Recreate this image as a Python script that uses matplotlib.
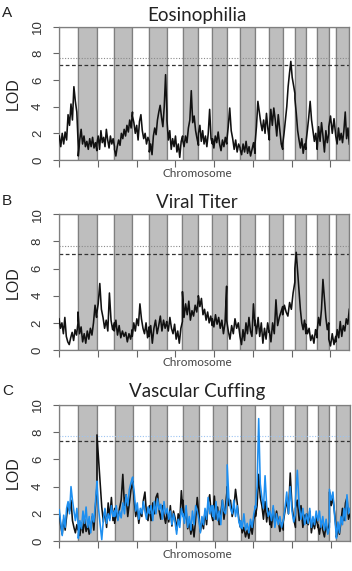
import numpy as np
import matplotlib
matplotlib.use("Agg")
import matplotlib.pyplot as plt

# chromosome layout (approx cM, read from band widths)
chrom_names = ["1", "2", "3", "4", "5", "6", "7", "8", "9", "10",
               "11", "12", "13", "14", "15", "16", "17", "18", "19", "X"]
chrom_len = [98, 96, 91, 93, 87, 91, 81, 82, 72, 74,
             69, 77, 74, 69, 63, 57, 58, 60, 36, 70]

# LOD values read per chromosome, evenly spaced inside each chromosome
eos_lod = [
    [1.8, 1.0, 2.0, 1.2, 2.1, 1.5, 3.4, 2.6, 4.2, 3.0, 5.5, 4.4, 3.6, 1.0],
    [0.3, 1.5, 2.3, 1.2, 1.8, 1.0, 1.4, 0.8, 1.6, 1.0, 1.7, 0.9, 1.3, 0.7],
    [1.2, 1.8, 0.8, 2.2, 1.3, 1.7, 1.0, 2.3, 1.5, 0.9, 1.8, 1.2, 1.6, 1.0],
    [0.8, 0.3, 1.0, 1.5, 1.1, 2.0, 1.6, 2.3, 1.8, 2.6, 2.1, 3.0, 2.4, 3.6],
    [3.3, 2.8, 2.0, 2.6, 1.5, 2.9, 3.4, 2.2, 1.6, 2.0, 1.2, 1.7, 1.4],
    [0.6, 1.2, 0.4, 1.8, 2.4, 1.9, 3.0, 3.6, 4.1, 3.2, 2.5, 4.0, 6.4, 3.5],
    [3.0, 1.5, 2.2, 0.8, 1.6, 1.0, 1.8, 0.6, 1.2, 0.2, 1.4, 1.8],
    [1.5, 1.0, 1.8, 1.3, 2.4, 3.0, 5.2, 2.8, 3.3, 2.2, 1.6, 1.1],
    [2.0, 2.6, 1.4, 2.2, 1.2, 1.8, 1.0, 2.0, 3.8, 1.6, 1.2],
    [1.6, 0.9, 1.8, 1.3, 2.1, 1.2, 0.7, 1.5, 1.0, 1.7, 1.2],
    [1.4, 2.5, 3.9, 2.2, 1.6, 0.8, 1.5, 0.6, 1.2, 0.9],
    [0.8, 0.4, 1.2, 0.6, 1.4, 0.5, 1.0, 0.3, 0.8, 1.3, 0.5],
    [1.2, 2.5, 4.4, 3.6, 2.8, 2.2, 3.0, 2.0, 3.5, 2.3, 1.5],
    [2.2, 3.8, 2.6, 3.9, 3.0, 1.8, 3.4, 2.3, 1.2, 0.8],
    [1.2, 2.0, 3.0, 4.0, 5.5, 6.5, 7.4, 6.2, 5.6, 5.0],
    [4.6, 3.5, 2.2, 1.5, 0.9, 1.6, 0.5, 1.2, 0.8],
    [1.3, 2.2, 3.2, 4.4, 3.0, 2.2, 1.4, 2.0, 0.9],
    [0.8, 2.5, 1.4, 2.8, 1.8, 0.6, 2.2, 1.3, 2.0],
    [2.5, 3.3, 2.0, 3.1, 1.8],
    [1.8, 1.2, 2.4, 1.5, 2.0, 1.3, 2.2, 3.6, 1.6, 2.4, 1.2],
]

viral_lod = [
    [2.3, 1.6, 2.0, 1.2, 2.4, 1.0, 0.6, 0.4, 0.9, 1.3, 0.7, 1.5, 1.1, 2.0],
    [2.8, 1.2, 1.7, 0.6, 1.2, 0.5, 1.4, 0.8, 1.6, 1.1, 2.0, 3.3, 2.4],
    [2.6, 3.4, 4.9, 3.0, 2.4, 1.6, 2.2, 1.4, 4.2, 2.2, 1.5, 2.0],
    [1.4, 2.2, 1.1, 1.8, 0.9, 1.4, 1.0, 1.3, 0.6, 1.2, 0.8, 1.5],
    [1.0, 2.0, 1.4, 2.3, 1.8, 3.4, 2.3, 1.6, 1.2, 2.0, 0.9, 1.7],
    [1.0, 1.8, 0.5, 1.6, 2.2, 1.2, 1.8, 2.5, 1.4, 2.2, 1.6, 2.1],
    [2.0, 1.4, 2.4, 1.6, 1.2, 1.9, 0.8, 1.4, 0.5, 1.6, 2.1],
    [4.3, 2.4, 3.4, 2.6, 3.6, 2.2, 2.9, 2.5, 3.3, 2.8, 3.8],
    [4.0, 3.2, 3.8, 2.6, 3.0, 2.2, 2.8, 2.0, 2.5, 1.8],
    [2.3, 1.7, 2.6, 1.9, 2.4, 1.6, 2.2, 1.2, 2.0, 4.7],
    [2.2, 1.4, 0.8, 1.8, 1.2, 2.3, 1.6, 2.0, 1.0],
    [1.0, 0.4, 1.5, 0.7, 2.0, 1.2, 2.4, 1.4, 1.0, 3.4, 1.8],
    [2.2, 1.2, 2.4, 1.0, 2.0, 0.5, 1.6, 0.8, 2.0, 1.3],
    [1.4, 0.6, 2.0, 1.2, 3.7, 1.8, 2.4, 2.8, 3.2],
    [2.6, 3.3, 2.8, 2.5, 3.5, 3.0, 4.2, 5.0],
    [6.0, 7.2, 5.8, 4.5, 3.0, 2.0, 1.5, 2.2, 1.2],
    [1.9, 1.2, 1.6, 0.7, 1.1, 0.5, 1.5, 0.9],
    [1.4, 2.4, 1.8, 3.0, 5.2, 3.8, 2.4, 1.5, 2.0],
    [0.8, 0.3, 1.2, 0.4, 1.0],
    [0.6, 1.5, 0.9, 2.1, 1.0, 1.8, 1.4, 2.3, 1.9, 3.0],
]

cuff_lod_black = [
    [2.0, 1.1, 0.5, 1.6, 0.8, 1.8, 2.7, 2.2, 3.0, 1.5, 1.0, 0.6, 1.2, 0.8],
    [0.9, 0.4, 1.3, 0.6, 1.6, 0.7, 1.2, 0.5, 1.0, 1.8, 0.8, 2.5, 4.0],
    [7.8, 6.0, 4.2, 2.5, 1.4, 2.3, 1.0, 2.8, 1.7, 3.2, 1.5, 2.4],
    [1.3, 2.1, 1.6, 2.4, 3.0, 4.9, 2.6, 3.4, 1.8, 2.8, 3.8, 4.3],
    [4.4, 3.0, 1.8, 2.4, 1.3, 2.2, 1.8, 3.0, 3.6, 2.0, 1.5, 2.6],
    [2.4, 1.5, 2.8, 2.0, 3.2, 3.5, 2.2, 1.6, 2.6, 1.9, 1.3, 2.2],
    [2.0, 1.4, 2.6, 1.1, 2.2, 1.7, 0.8, 2.0, 1.4, 3.7, 2.2],
    [3.0, 1.6, 2.2, 0.9, 1.4, 0.5, 1.2, 0.3, 1.6, 3.2, 2.0],
    [2.0, 0.7, 1.4, 0.9, 2.2, 1.2, 2.8, 3.4, 2.0, 1.5],
    [1.8, 3.3, 1.6, 2.5, 1.2, 2.0, 3.0, 1.6, 2.6, 3.8],
    [4.0, 2.6, 3.0, 1.8, 2.4, 3.8, 2.8, 1.6, 1.0],
    [1.4, 0.6, 1.0, 0.3, 0.8, 0.2, 1.2, 0.5, 1.6, 2.2],
    [1.8, 2.6, 4.9, 3.2, 2.6, 1.6, 2.9, 1.4, 2.4, 1.2],
    [2.0, 1.0, 2.4, 1.2, 2.2, 1.5, 0.7, 1.3, 0.8],
    [1.4, 2.2, 3.0, 2.0, 5.0, 2.6, 1.6, 1.0],
    [2.4, 3.0, 1.5, 2.6, 1.0, 1.9, 1.3],
    [2.0, 1.2, 2.2, 0.6, 1.4, 0.9, 1.8, 1.0],
    [1.2, 0.5, 1.4, 0.8, 0.3, 1.2, 0.6, 1.4],
    [3.6, 2.6, 3.2, 2.0, 0.6],
    [0.3, 0.9, 0.5, 1.4, 2.4, 1.5, 2.8, 3.2, 1.6, 2.0],
]

cuff_lod_blue = [
    [2.3, 1.3, 0.4, 1.9, 1.0, 2.4, 2.9, 2.0, 4.0, 3.0, 2.2, 1.5, 2.4, 1.0],
    [0.2, 1.5, 0.9, 2.2, 1.3, 2.5, 1.0, 1.8, 0.6, 2.0, 1.4, 2.8, 4.4],
    [4.3, 2.4, 1.2, 0.1, 1.6, 2.4, 1.3, 2.0, 1.5, 2.6, 1.8, 2.2],
    [1.8, 2.6, 1.5, 2.2, 1.7, 2.8, 2.0, 3.4, 2.6, 3.8, 4.3, 4.7],
    [4.5, 3.6, 2.2, 2.8, 1.6, 2.4, 2.0, 2.9, 2.2, 1.6, 2.5, 2.0],
    [2.2, 2.6, 1.5, 2.9, 2.0, 3.1, 2.3, 2.7, 1.6, 2.9, 2.0, 2.4],
    [2.4, 1.6, 2.2, 1.2, 2.0, 1.4, 0.5, 1.6, 1.0, 2.4, 1.8],
    [2.0, 1.3, 2.6, 1.0, 1.8, 0.8, 2.2, 1.2, 2.6, 2.2, 1.6],
    [1.6, 0.6, 1.8, 1.2, 2.4, 1.6, 3.2, 2.0, 2.6, 1.8],
    [2.6, 1.6, 2.9, 1.5, 2.2, 1.2, 3.0, 2.2, 2.0, 3.2],
    [5.6, 3.2, 2.4, 2.0, 3.0, 1.8, 2.6, 1.4, 1.0],
    [1.5, 0.9, 2.0, 0.8, 1.3, 0.6, 1.6, 1.0, 2.0, 2.6],
    [2.4, 4.0, 9.0, 4.2, 3.2, 2.4, 4.8, 2.6, 1.8, 2.2],
    [2.2, 1.5, 2.6, 1.0, 2.0, 1.2, 1.8, 1.0, 1.5],
    [1.5, 2.4, 3.6, 2.0, 4.0, 2.2, 1.4, 2.0],
    [3.0, 5.2, 2.6, 1.6, 2.4, 1.2, 2.0],
    [2.0, 1.3, 2.4, 1.0, 1.8, 1.2, 2.2, 1.5],
    [1.5, 2.2, 1.0, 1.8, 0.8, 1.6, 0.5, 1.0],
    [3.8, 3.0, 3.6, 1.8, 0.3],
    [0.2, 1.4, 0.6, 1.8, 1.2, 2.4, 1.5, 3.4, 2.0, 2.4],
]

# significance thresholds (dotted, dashed)
eos_thr = [7.65, 7.1]
viral_thr = [7.65, 7.05]
cuff_thr = [7.75, 7.35]

titles = ["Eosinophilia", "Viral Titer", "Vascular Cuffing"]
letters = ["A", "B", "C"]

W, H = 352, 571
BAND = "#bebebe"
EDGE = "#7f7f7f"
BLUE = "#1e8ff0"


def genome_xy(lod_by_chrom):
    starts = np.concatenate([[0], np.cumsum(chrom_len)[:-1]])
    xs, ys = [], []
    for s, L, vals in zip(starts, chrom_len, lod_by_chrom):
        xs.append(np.linspace(s, s + L, len(vals)))
        ys.append(vals)
    return np.concatenate(xs), np.concatenate(ys)


def draw_panel(ax, curves, thr, dot_color):
    total = sum(chrom_len)
    starts = np.concatenate([[0], np.cumsum(chrom_len)[:-1]])
    for i, (s, L) in enumerate(zip(starts, chrom_len)):
        face = BAND if i % 2 == 1 else "white"
        ax.axvspan(s, s + L, facecolor=face, edgecolor=EDGE, lw=0.9, zorder=0)

    for lod, color in curves:
        x, y = genome_xy(lod)
        ax.plot(x, y, color=color, lw=1.15, zorder=3)

    ax.axhline(thr[0], color=dot_color, ls=(0, (1, 1.5)), lw=0.8, zorder=2)
    ax.axhline(thr[1], color="#333333", ls=(0, (3, 2)), lw=0.9, zorder=2)

    ax.set_xlim(0, total)
    ax.set_ylim(0, 10)
    ax.set_yticks([0, 2, 4, 6, 8, 10])
    ax.set_yticklabels(["0", "2", "4", "6", "8", "10"], rotation=90, va="center",
                       fontsize=9.5, family="Liberation Sans", color="#333333")
    ax.set_xticks(np.arange(0, total, 200))
    ax.set_xticklabels([])
    ax.tick_params(axis="x", length=5, color="#666666", width=0.8)
    ax.tick_params(axis="y", length=4, color="#666666", width=0.8, pad=7)
    for sp in ax.spines.values():
        sp.set_color(EDGE)
        sp.set_linewidth(0.9)
    ax.set_ylabel("LOD", fontsize=11.5, family="Liberation Sans", color="#222222", labelpad=8)


fig = plt.figure(figsize=(W / 100, H / 100), dpi=100)

# axes boxes in pixels: (left, top, right, bottom)
boxes = [(59.3, 26.7, 349.3, 160), (59, 214.3, 349.3, 350), (59.3, 405, 350, 541)]
panel_curves = [
    [(eos_lod, "#111111")],
    [(viral_lod, "#111111")],
    [(cuff_lod_black, "#111111"), (cuff_lod_blue, BLUE)],
]
panel_thr = [eos_thr, viral_thr, cuff_thr]
dot_colors = ["#8a8a8a", "#8a8a8a", "#9cc4f2"]
title_base = [20.5, 208, 397]
letter_y = [13, 201, 391]

for i in range(3):
    l, t, r, b = boxes[i]
    ax = fig.add_axes([l / W, 1 - b / H, (r - l) / W, (b - t) / H])
    draw_panel(ax, panel_curves[i], panel_thr[i], dot_colors[i])
    fig.text(197 / W, 1 - title_base[i] / H, titles[i], ha="center", va="baseline",
             fontsize=13.5, family="Lato", color="#222222")
    fig.text(197 / W, 1 - (b + 13) / H, "Chromosome", ha="center", va="center",
             fontsize=8.5, family="Lato", color="#444444")
    fig.text(2 / W, 1 - letter_y[i] / H, letters[i], ha="left", va="center",
             fontsize=11, family="Liberation Sans", color="#222222")

fig.savefig("out.png", dpi=100)
